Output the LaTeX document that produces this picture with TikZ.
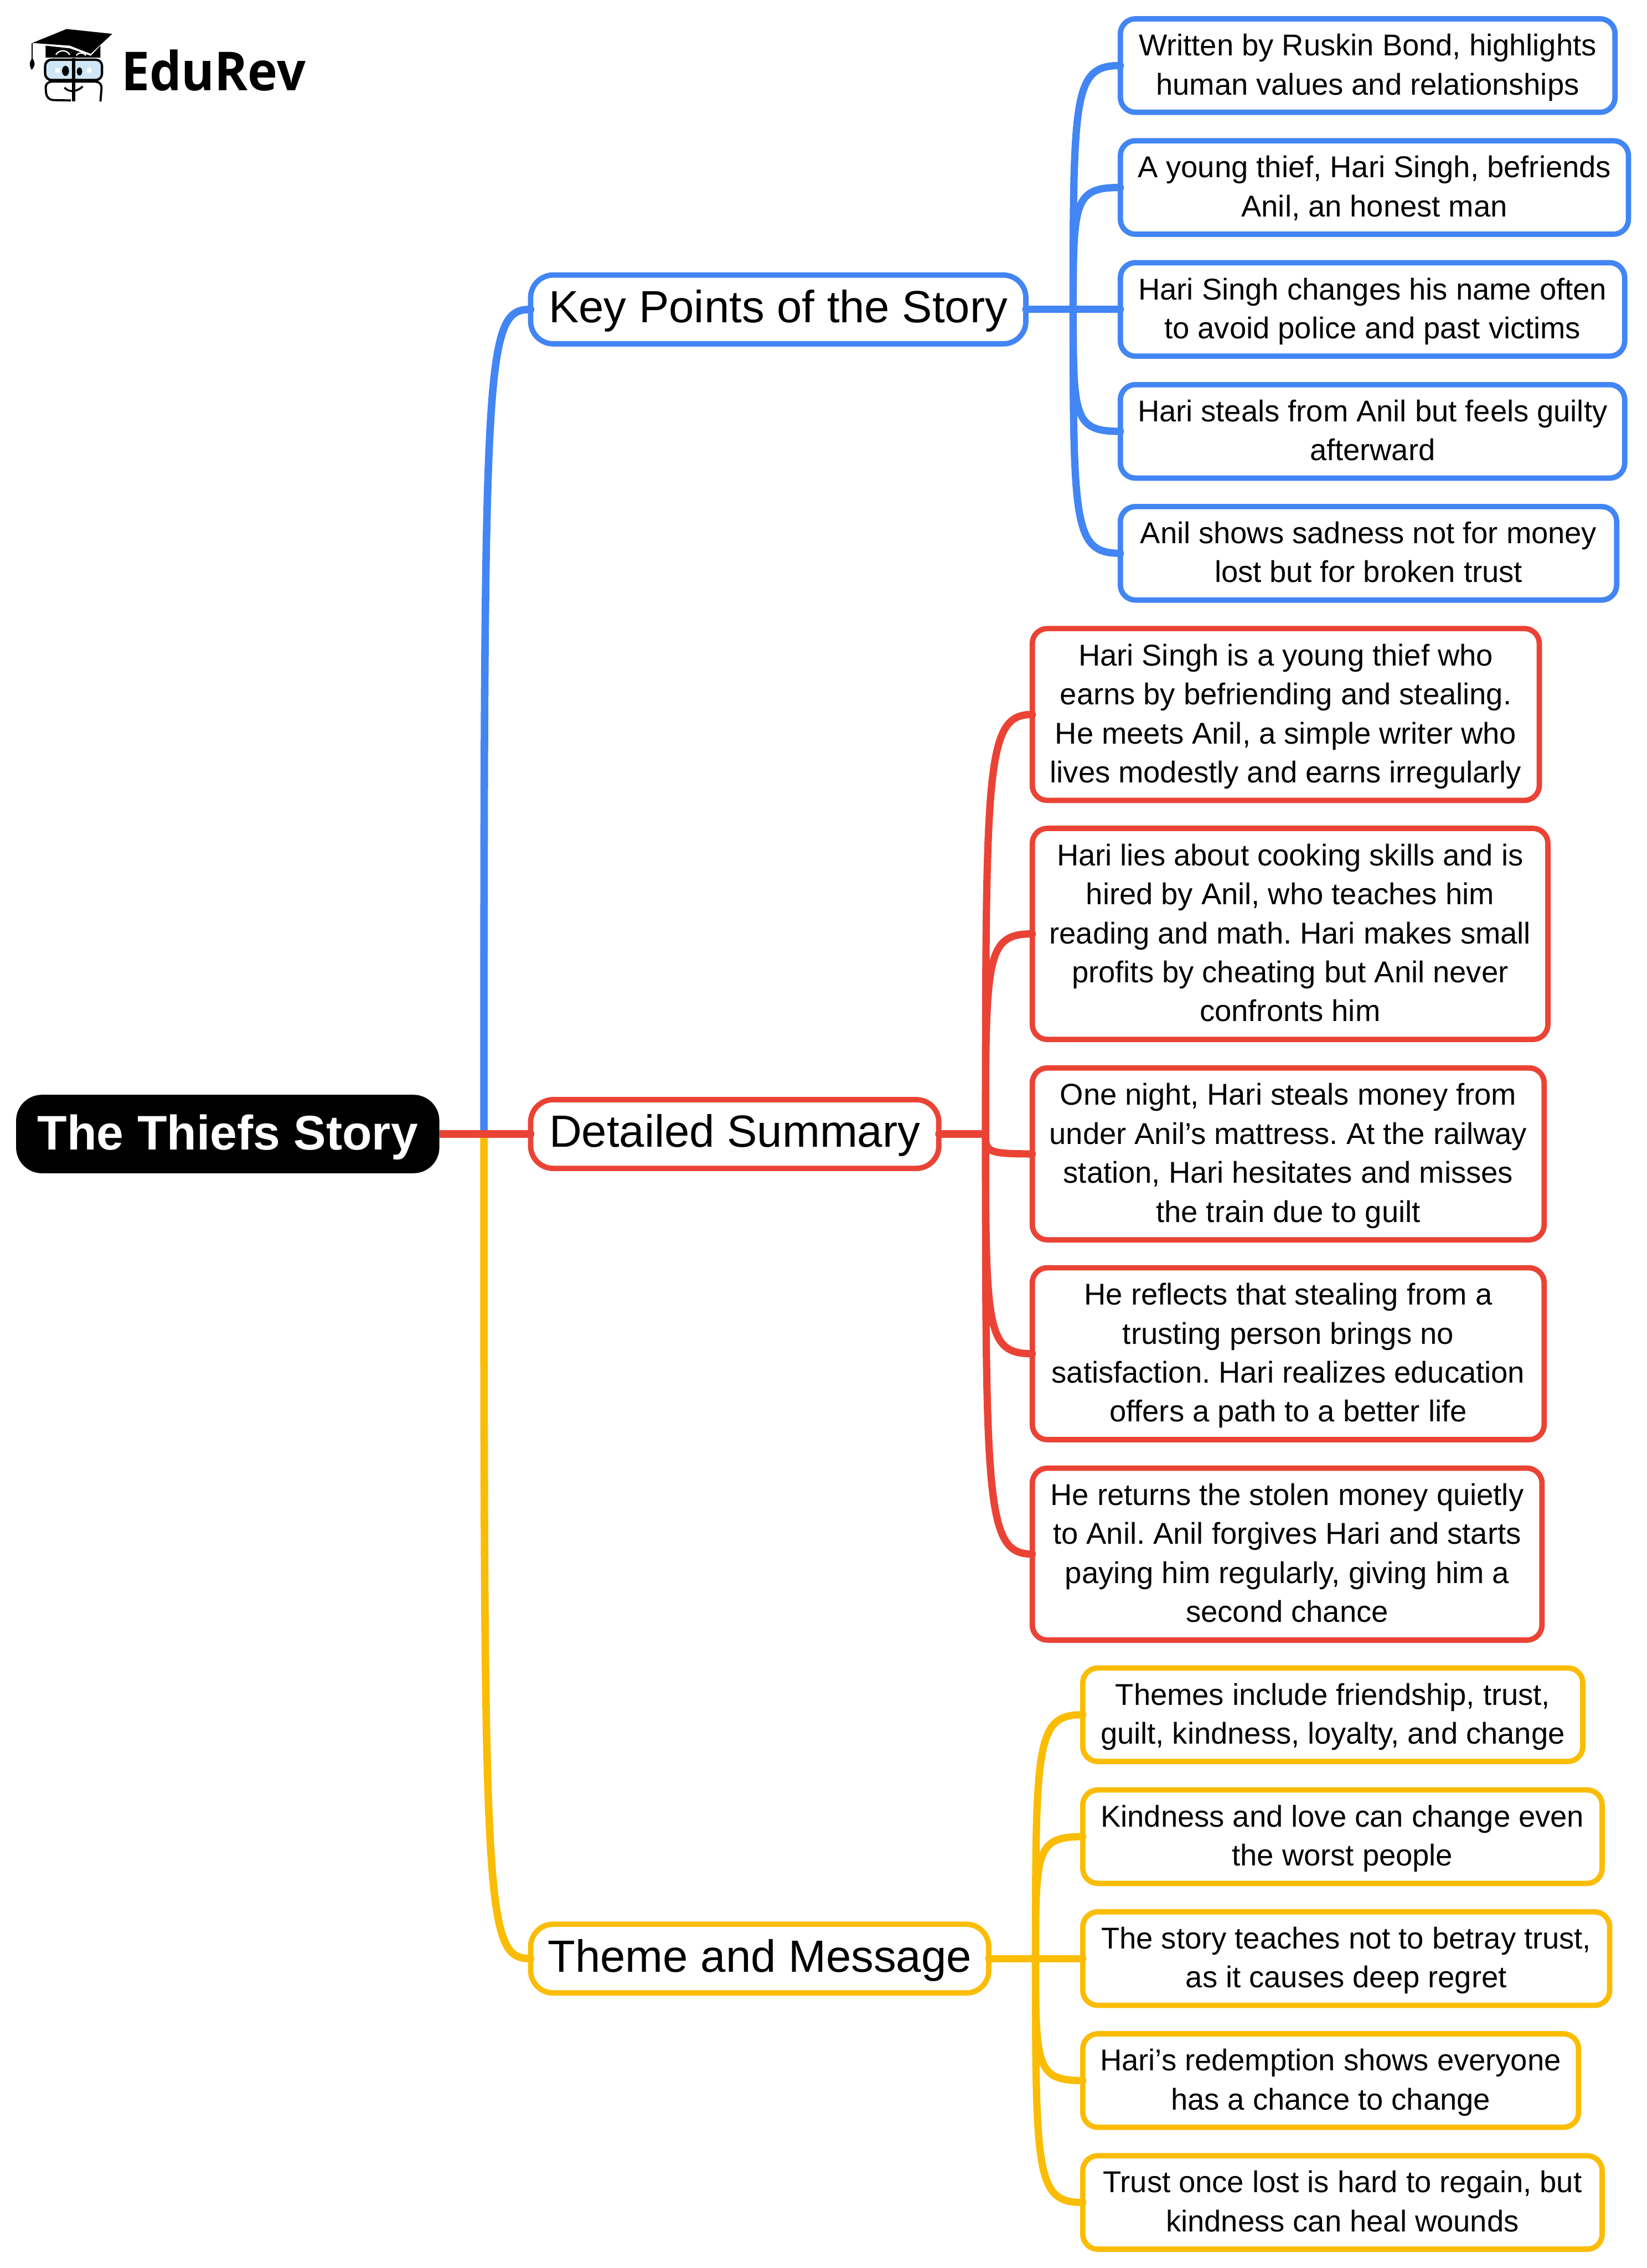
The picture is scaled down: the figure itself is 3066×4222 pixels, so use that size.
\documentclass[tikz,border=0pt]{standalone}
\usepackage{fontspec}
\setmainfont{Liberation Sans}
\newfontfamily\logofont{Open Sans}
\usetikzlibrary{calc}
\definecolor{gblue}{HTML}{4285F4}
\definecolor{gred}{HTML}{EA4335}
\definecolor{gyellow}{HTML}{FBBC04}
\definecolor{glass}{HTML}{CFE6F7}
\tikzset{
  x=0.25pt,y=-0.25pt,
  boxbase/.style={rectangle,line width=2.5pt,fill=white,inner sep=0pt,outer sep=0pt,align=center,text=black},
  leafbox/.style={boxbase,rounded corners=7pt,font=\fontsize{14}{18.15}\selectfont\frenchspacing},
  midbox/.style={boxbase,rounded corners=10.5pt,font=\fontsize{21}{25}\selectfont},
  rootbox/.style={boxbase,draw=black,fill=black,text=white,rounded corners=10.75pt,font=\fontsize{22.6}{27}\selectfont\bfseries},
  trunk/.style={line width=3.5pt,line cap=round},
  branch/.style={line width=3.4pt,line cap=round},
}
% name, x1, y1, x2, y2 (outer edges in reference pixels), style, text, strut height, strut depth
\newcommand\boxat[9]{\node[#6,minimum width={(#4-#2-10)*0.25pt},minimum height={(#5-#3-10)*0.25pt}] (#1) at ({(#2+#4)/2},{(#3+#5)/2}) {\rule{0pt}{#8pt}#7\rule[-#9pt]{0pt}{0pt}};}
\newcommand\leafat[7]{\boxat{#1}{#2}{#3}{#4}{#5}{leafbox,#6}{#7}{14}{5}}
% hub, target: curve off the vertical spine into a box
\newcommand\curveto[3][branch]{\draw[#1] (#2) .. controls ($(#2)!0.89!(#2|-#3.west)$) and ($(#2|-#3.west)+(2,0)$) .. (#3.west);}
\begin{document}
\begin{tikzpicture}
\useasboundingbox (0,0) rectangle (3066,4222);
\fill[white] (0,0) rectangle (3066,4222);

% ---- logo
\path[fill=black] (60,80) -- (124,54) -- (209,63) -- (169,100) -- (130,85) -- cycle;
\path[fill=black] (85,85) -- (130,90) -- (169,104) -- (187,85) -- (187,107) -- (85,107) -- cycle;
\draw[black,line width=0.5pt] (60,80) -- (60,110);
\path[fill=black] (60,108) .. controls (54,116) and (54,122) .. (59,130) .. controls (66,122) and (66,116) .. (60,108) -- cycle;
\draw[white,line width=0.6pt] (104,102) .. controls (110,92) and (124,92) .. (130,102);
\draw[white,line width=0.6pt] (142,103) .. controls (146,97) and (156,97) .. (160,103);
\draw[black,fill=glass,line width=1.1pt,rounded corners=3pt] (84,111) rectangle (190,149);
\draw[black,line width=1pt,rounded corners=3pt] (132,187) -- (87,186) -- (84,152) -- (190,152) -- (187,189);
\draw[black,line width=1.4pt] (137,108) -- (137,189);
\fill[black] (122,132) ellipse [x radius=6.5,y radius=9.5];
\fill[black] (148,133) ellipse [x radius=5,y radius=7.5];
\fill[white] (103,127) rectangle (111,135);
\fill[white] (162,127) rectangle (170,135);
\draw[black,line width=0.9pt] (120,163) .. controls (128,172) and (142,172) .. (154,161);
\node[inner sep=0pt,anchor=base west,font=\fontsize{25}{30}\selectfont\logofont\bfseries] (logo) at (225,169) {\scalebox{0.94}[1]{EduRev}};

% ---- nodes
\boxat{root}{30}{2038}{818}{2184}{rootbox}{The Thiefs Story}{24}{9.5}
\boxat{K}{983}{507}{1915}{645}{midbox,draw=gblue}{Key Points of the Story}{22}{9.65}
\boxat{D}{983}{2042}{1753}{2180}{midbox,draw=gred}{Detailed Summary}{22}{9.65}
\boxat{T}{983}{3577}{1846}{3715}{midbox,draw=gyellow}{Theme and Message}{22}{9.65}

\leafat{b1}{2081}{30}{3012}{214}{draw=gblue}{Written by Ruskin Bond, highlights\\human values and relationships}
\leafat{b2}{2081}{257}{3037}{441}{draw=gblue}{A young thief, Hari Singh, befriends\\Anil, an honest man}
\leafat{b3}{2081}{484}{3030}{668}{draw=gblue}{Hari Singh changes his name often\\to avoid police and past victims}
\leafat{b4}{2081}{711}{3030}{895}{draw=gblue}{Hari steals from Anil but feels guilty\\afterward}
\leafat{b5}{2081}{938}{3015}{1122}{draw=gblue}{Anil shows sadness not for money\\lost but for broken trust}

\leafat{r1}{1917}{1165}{2871}{1495}{draw=gred}{Hari Singh is a young thief who\\earns by befriending and stealing.\\He meets Anil, a simple writer who\\lives modestly and earns irregularly}
\leafat{r2}{1917}{1537}{2887}{1940}{draw=gred}{Hari lies about cooking skills and is\\hired by Anil, who teaches him\\reading and math. Hari makes small\\profits by cheating but Anil never\\confronts him}
\leafat{r3}{1917}{1983}{2880}{2313}{draw=gred}{One night, Hari steals money from\\under Anil’s mattress. At the railway\\station, Hari hesitates and misses\\the train due to guilt}
\leafat{r4}{1917}{2355}{2880}{2685}{draw=gred}{He reflects that stealing from a\\trusting person brings no\\satisfaction. Hari realizes education\\offers a path to a better life}
\leafat{r5}{1917}{2728}{2876}{3058}{draw=gred}{He returns the stolen money quietly\\to Anil. Anil forgives Hari and starts\\paying him regularly, giving him a\\second chance}

\leafat{y1}{2011}{3100}{2952}{3284}{draw=gyellow}{Themes include friendship, trust,\\guilt, kindness, loyalty, and change}
\leafat{y2}{2011}{3327}{2988}{3511}{draw=gyellow}{Kindness and love can change even\\the worst people}
\leafat{y3}{2011}{3554}{3002}{3738}{draw=gyellow}{The story teaches not to betray trust,\\as it causes deep regret}
\leafat{y4}{2011}{3781}{2944}{3965}{draw=gyellow}{Hari’s redemption shows everyone\\has a chance to change}
\leafat{y5}{2011}{4008}{2988}{4192}{draw=gyellow}{Trust once lost is hard to regain, but\\kindness can heal wounds}

% ---- hubs on the spines
\coordinate (hubM) at (901,2111);
\coordinate (hubB) at (1998,576);
\coordinate (hubR) at (1835,2111);
\coordinate (hubY) at (1928,3646);

% ---- connectors
\draw[trunk,gblue] (hubM) .. controls ($(hubM)!0.95!(hubM|-K.west)$) and ($(hubM|-K.west)+(2,0)$) .. (K.west);
\draw[trunk,gyellow] (hubM) .. controls ($(hubM)!0.95!(hubM|-T.west)$) and ($(hubM|-T.west)+(2,0)$) .. (T.west);
\draw[trunk,gred,line cap=butt,shorten <=1.25pt] (root.east) -- (hubM);
\draw[trunk,gred] (hubM) -- (D.west);

\draw[branch,gblue] (K.east) -- (b3.west);
\curveto[branch,gblue]{hubB}{b1}
\curveto[branch,gblue]{hubB}{b2}
\curveto[branch,gblue]{hubB}{b4}
\curveto[branch,gblue]{hubB}{b5}

\draw[branch,gred] (D.east) -- (hubR);
\curveto[branch,gred]{hubR}{r1}
\curveto[branch,gred]{hubR}{r2}
\curveto[branch,gred]{hubR}{r3}
\curveto[branch,gred]{hubR}{r4}
\curveto[branch,gred]{hubR}{r5}

\draw[branch,gyellow] (T.east) -- (y3.west);
\curveto[branch,gyellow]{hubY}{y1}
\curveto[branch,gyellow]{hubY}{y2}
\curveto[branch,gyellow]{hubY}{y4}
\curveto[branch,gyellow]{hubY}{y5}
\end{tikzpicture}
\end{document}
